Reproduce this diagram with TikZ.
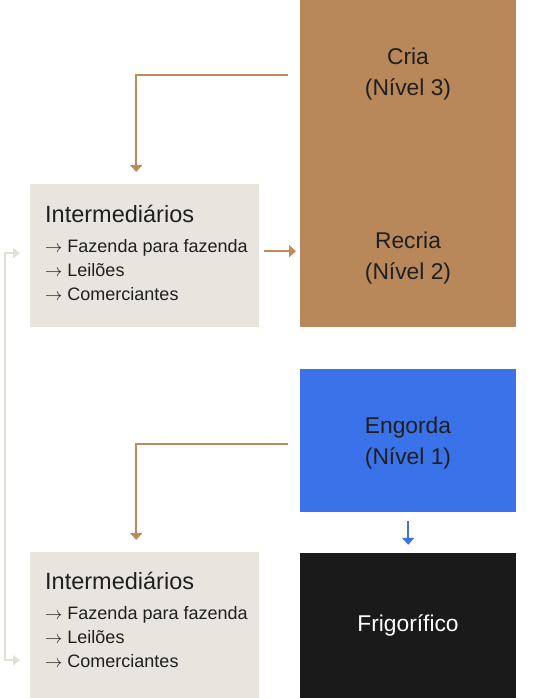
\documentclass[tikz,border=0pt]{standalone}
\usepackage{fontspec}
\setmainfont{Liberation Sans}
\usepackage{xcolor}
\usepackage{tikz}
\usetikzlibrary{arrows.meta,positioning,calc}
\definecolor{cattlebrown}{HTML}{B8875A}
\definecolor{linkbrown}{HTML}{BE8A58}
\definecolor{fatblue}{HTML}{3A72EA}
\definecolor{slaughter}{HTML}{1A1A1A}
\definecolor{tradegray}{HTML}{E8E5DE}
\definecolor{loopgray}{HTML}{E2DFD8}
\newcommand{\itemarrow}{$\rightarrow$}
\tikzset{
  stage box/.style={
    rectangle,
    draw=none,
    minimum width=216pt,
    inner sep=0pt,
    anchor=north west,
  },
  trade box/.style={
    rectangle,
    fill=tradegray,
    minimum width=229pt,
    inner sep=0pt,
    anchor=north west,
  },
  stage label/.style={
    align=center,
    text=black!88,
    font=\fontsize{22.8}{31}\selectfont,
    inner sep=0pt,
  },
  trade title/.style={
    anchor=base west,
    inner sep=0pt,
    text=black!88,
    font=\fontsize{23.5}{27}\selectfont,
  },
  trade item/.style={
    anchor=base west,
    inner sep=0pt,
    text=black!88,
    font=\fontsize{18}{24}\selectfont,
  },
  flow arrow/.style={-{Triangle[width=12pt,length=7pt]}, line width=2pt, draw=linkbrown},
  down arrow/.style={-{Triangle[width=12pt,length=7pt]}, line width=2pt, draw=fatblue},
  loop arrow/.style={{Triangle[width=10pt,length=7pt]}-{Triangle[width=10pt,length=7pt]}, line width=2pt, draw=loopgray},
}
\begin{document}
\begin{tikzpicture}[x=1pt,y=-1pt]
  \useasboundingbox (0,0) rectangle (540,698);

  % stages
  \node[stage box,fill=cattlebrown,minimum height=327pt] (criabox) at (300,0) {};
  \node[stage box,fill=fatblue,minimum height=143pt,below=41pt of criabox.south west,anchor=north west] (engorda) {};
  \node[stage box,fill=slaughter,minimum height=146pt,below=41pt of engorda.south west,anchor=north west] (frigo) {};

  \node[stage label] (cria) at (408,74) {Cria\\(Nível 3)};
  \node[stage label] (recria) at (408,258) {Recria\\(Nível 2)};
  \node[stage label] (engordatext) at (408,443) {Engorda\\(Nível 1)};
  \node[stage label,text=white] (frigotext) at (408,625) {Frigorífico};

  % intermediaries
  \node[trade box,minimum height=143pt] (inter1) at (30,184) {};
  \node[trade box,minimum height=146pt] (inter2) at (30,552) {};

  \foreach \i/\y in {1/222,2/589} {
    \node[trade title] (title\i) at (45,\y) {Intermediários};
    \node[trade item] (farm\i) at (45,\y+30) {\itemarrow\ Fazenda para fazenda};
    \node[trade item] (auction\i) at (45,\y+54) {\itemarrow\ Leilões};
    \node[trade item] (dealer\i) at (45,\y+78) {\itemarrow\ Comerciantes};
  }

  % connectors
  \coordinate (criaout) at ($(criabox.north west)+(-12,75)$);
  \coordinate (inter1in) at ($(inter1.north)+(-8.5,-12)$);
  \draw[flow arrow] (criaout) -| (inter1in);
  \draw[flow arrow,shorten <=5pt,shorten >=4pt] ([yshift=4.5]inter1.east) -- ([yshift=4.5]inter1.east -| criabox.west);

  \coordinate (engordaout) at ($(engorda.west)+(-12,3.5)$);
  \coordinate (inter2in) at ($(inter2.north)+(-8.5,-12)$);
  \draw[flow arrow] (engordaout) -| (inter2in);
  \draw[down arrow,shorten <=9pt,shorten >=8pt] (engorda.south) -- (frigo.north);

  \coordinate (loopleft) at (5,0);
  \draw[loop arrow,shorten <=10pt,shorten >=10pt] ([yshift=2.5]inter1.west) -- ([yshift=2.5]inter1.west -| loopleft)
    -- ([yshift=-35]inter2.west -| loopleft) -- ([yshift=-35]inter2.west);
\end{tikzpicture}
\end{document}
